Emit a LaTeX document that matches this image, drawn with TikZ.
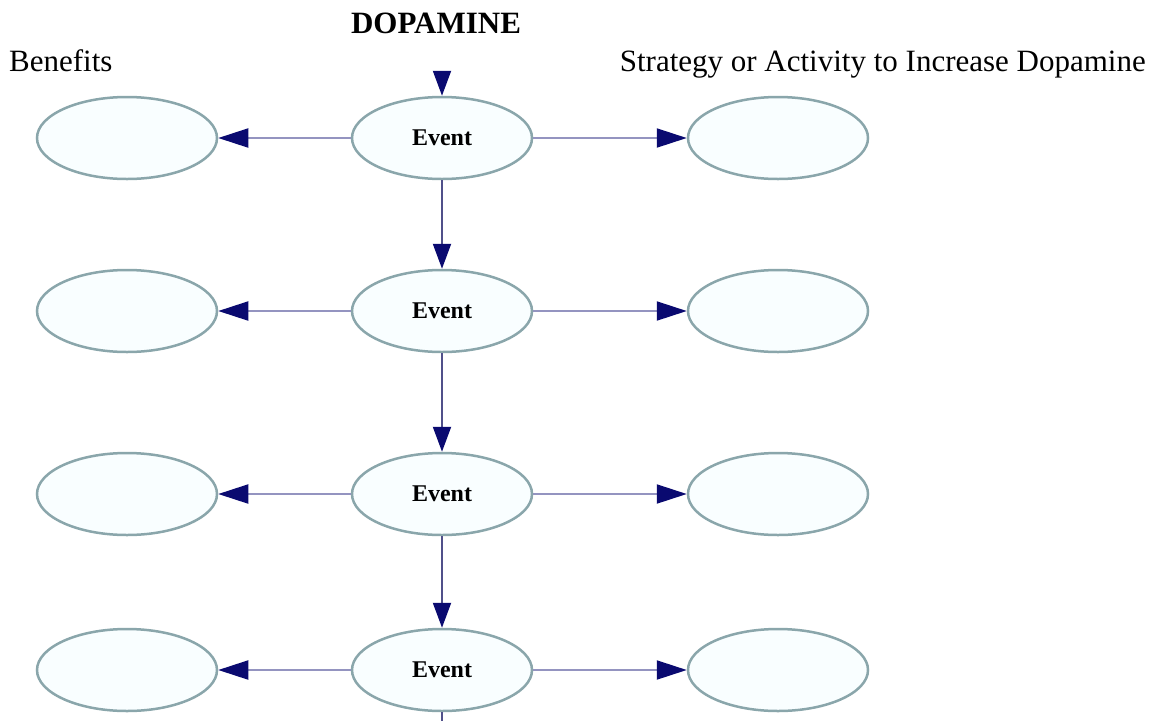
\documentclass[tikz,border=0pt]{standalone}
\usepackage{fontspec}
\setmainfont{Liberation Serif}
\usetikzlibrary{shapes.geometric,arrows.meta}
\definecolor{rim}{HTML}{8AA6AB}
\definecolor{inside}{HTML}{F9FEFF}
\definecolor{hline}{HTML}{9494C0}
\definecolor{vline}{HTML}{50508A}
\definecolor{tip}{HTML}{0A0A70}
\tikzset{
  bubble/.style={ellipse, draw=rim, fill=inside, line width=2.5pt, minimum width=180pt, minimum height=82pt, inner sep=0pt},
  eventbubble/.style={bubble, font=\fontsize{24}{26}\selectfont\bfseries},
  harrow/.style={draw=hline, line width=2pt, -{Triangle[length=30pt,width=19pt,color=tip]}},
  varrow/.style={draw=vline, line width=2pt, -{Triangle[length=25pt,width=18pt,color=tip]}},
  vline/.style={draw=vline, line width=2pt},
  heading/.style={font=\fontsize{31}{34}\selectfont, anchor=base west, inner sep=0pt}
}
\begin{document}
\begin{tikzpicture}[x=1pt,y=-1pt]
\useasboundingbox (0,0) rectangle (1149,721);
\node[font=\fontsize{31}{34}\selectfont\bfseries, anchor=base, inner sep=0pt] (title) at (436,33) {DOPAMINE};
\node[heading] (ben) at (9,71) {Benefits};
\node[heading, anchor=base east] (strat) at (1146,71) {Strategy or Activity to Increase Dopamine};
\foreach \i/\y in {1/138,2/311,3/494,4/670}{
  \node[bubble] (l\i) at (127,\y) {};
  \node[eventbubble] (e\i) at (442,\y) {Event};
  \node[bubble] (r\i) at (778,\y) {};
  \draw[harrow] (e\i) -- (l\i);
  \draw[harrow] (e\i) -- (r\i);
}
\coordinate (top) at (442,78);
\coordinate (bottom) at (442,721);
\draw[varrow] (top) -- (e1);
\draw[varrow] (e1) -- (e2);
\draw[varrow] (e2) -- (e3);
\draw[varrow] (e3) -- (e4);
\draw[vline] (e4) -- (bottom);
\end{tikzpicture}
\end{document}
